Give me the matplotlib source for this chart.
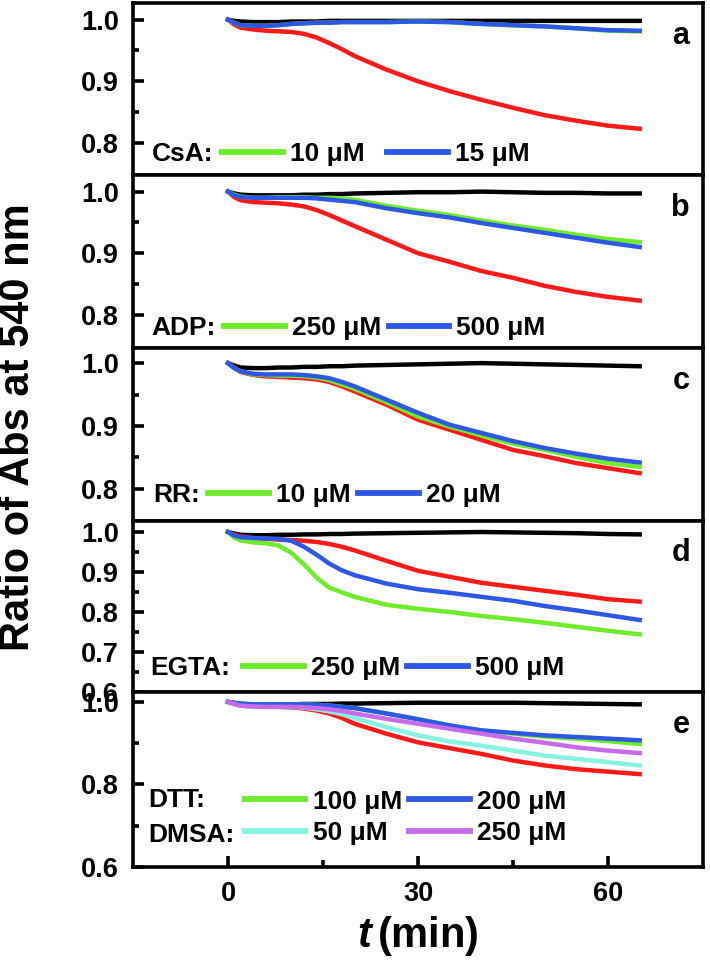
import numpy as np
import matplotlib
matplotlib.use("Agg")
import matplotlib.pyplot as plt
from matplotlib.lines import Line2D
from matplotlib.ticker import FixedLocator

plt.rcParams.update({
    "font.family": ["Liberation Sans", "DejaVu Sans"],
    "font.weight": "bold",
    "mathtext.fontset": "custom",
    "mathtext.it": "Liberation Sans:bold:italic",
    "mathtext.rm": "Liberation Sans:bold",
})

# colours
BLACK = "#000000"
RED = "#FF1A1A"
GREEN = "#6EEB2A"
BLUE = "#2D58E6"
CYAN = "#86F2E2"
PURPLE = "#C76BEA"

# ── data ────────────────────────────────────────────────────────
t = [0, 1, 2, 4, 6, 8, 10, 12, 14, 16, 18, 20, 25, 30, 35, 40, 45, 50, 55, 60, 65]

# a: CsA
a_ctrl = [1.0, 0.998, 0.997, 0.996, 0.996, 0.996, 0.997, 0.997, 0.997, 0.998, 0.998,
          0.998, 0.998, 0.998, 0.998, 0.998, 0.998, 0.998, 0.998, 0.998, 0.998]
a_ca = [1.0, 0.992, 0.987, 0.984, 0.982, 0.981, 0.980, 0.977, 0.971, 0.962, 0.952,
        0.941, 0.919, 0.900, 0.884, 0.870, 0.857, 0.845, 0.836, 0.828, 0.823]
a_lo = [1.0, 0.995, 0.991, 0.990, 0.990, 0.991, 0.993, 0.994, 0.995, 0.995, 0.996,
        0.996, 0.996, 0.997, 0.996, 0.993, 0.991, 0.989, 0.986, 0.982, 0.981]
a_hi = [1.0, 0.995, 0.991, 0.990, 0.990, 0.991, 0.993, 0.994, 0.995, 0.995, 0.996,
        0.996, 0.996, 0.997, 0.996, 0.993, 0.991, 0.989, 0.986, 0.983, 0.982]

# b: ADP
b_ctrl = [1.0, 0.997, 0.995, 0.994, 0.994, 0.994, 0.994, 0.995, 0.995, 0.996, 0.996,
          0.997, 0.998, 0.999, 0.999, 1.0, 0.999, 0.998, 0.998, 0.997, 0.997]
b_ca = [1.0, 0.991, 0.986, 0.983, 0.982, 0.981, 0.979, 0.976, 0.970, 0.962, 0.953,
        0.944, 0.922, 0.900, 0.886, 0.871, 0.860, 0.847, 0.837, 0.829, 0.823]
b_lo = [1.0, 0.995, 0.992, 0.990, 0.990, 0.991, 0.991, 0.991, 0.990, 0.990, 0.989,
        0.987, 0.977, 0.969, 0.962, 0.953, 0.945, 0.938, 0.930, 0.923, 0.918]
b_hi = [1.0, 0.994, 0.991, 0.990, 0.990, 0.990, 0.990, 0.990, 0.989, 0.987, 0.985,
        0.983, 0.973, 0.965, 0.958, 0.949, 0.941, 0.933, 0.925, 0.917, 0.910]

# c: RR
c_ctrl = [1.0, 0.996, 0.993, 0.992, 0.992, 0.993, 0.993, 0.994, 0.994, 0.995, 0.995,
          0.996, 0.997, 0.998, 0.999, 1.0, 0.999, 0.998, 0.997, 0.996, 0.995]
c_ca = [1.0, 0.992, 0.986, 0.981, 0.979, 0.978, 0.977, 0.976, 0.974, 0.970, 0.963,
        0.955, 0.934, 0.910, 0.894, 0.878, 0.862, 0.852, 0.841, 0.833, 0.825]
c_lo = [1.0, 0.992, 0.987, 0.982, 0.981, 0.980, 0.980, 0.979, 0.977, 0.973, 0.966,
        0.959, 0.938, 0.915, 0.899, 0.885, 0.872, 0.862, 0.851, 0.841, 0.835]
c_hi = [1.0, 0.992, 0.987, 0.983, 0.982, 0.982, 0.982, 0.981, 0.979, 0.976, 0.970,
        0.963, 0.942, 0.921, 0.902, 0.889, 0.876, 0.865, 0.856, 0.848, 0.842]

# d: EGTA
d_ctrl = [1.0, 0.996, 0.993, 0.992, 0.992, 0.993, 0.993, 0.994, 0.994, 0.995, 0.995,
          0.996, 0.997, 0.998, 0.999, 1.0, 0.999, 0.998, 0.997, 0.995, 0.994]
d_ca = [1.0, 0.993, 0.989, 0.985, 0.983, 0.981, 0.980, 0.978, 0.975, 0.970, 0.963,
        0.954, 0.928, 0.903, 0.888, 0.873, 0.863, 0.853, 0.843, 0.832, 0.826]
d_lo = [1.0, 0.986, 0.979, 0.974, 0.972, 0.966, 0.948, 0.919, 0.886, 0.861, 0.849,
        0.838, 0.818, 0.808, 0.800, 0.790, 0.782, 0.773, 0.763, 0.753, 0.744]
d_hi = [1.0, 0.991, 0.987, 0.985, 0.984, 0.983, 0.978, 0.963, 0.943, 0.921, 0.904,
        0.892, 0.871, 0.857, 0.848, 0.838, 0.828, 0.815, 0.804, 0.792, 0.780]

# e: DTT / DMSA
e_ctrl = [1.0, 0.997, 0.995, 0.994, 0.994, 0.994, 0.994, 0.995, 0.995, 0.995, 0.996,
          0.996, 0.997, 0.998, 0.998, 0.998, 0.998, 0.997, 0.996, 0.995, 0.994]
e_ca = [1.0, 0.995, 0.991, 0.989, 0.988, 0.988, 0.987, 0.984, 0.979, 0.972, 0.961,
        0.947, 0.923, 0.902, 0.888, 0.874, 0.858, 0.846, 0.837, 0.831, 0.825]
e_dtt100 = [1.0, 0.998, 0.996, 0.994, 0.994, 0.994, 0.994, 0.994, 0.993, 0.991, 0.988,
            0.985, 0.972, 0.958, 0.943, 0.931, 0.923, 0.916, 0.911, 0.905, 0.898]
e_dtt200 = [1.0, 0.998, 0.996, 0.994, 0.994, 0.994, 0.994, 0.994, 0.993, 0.991, 0.988,
            0.985, 0.972, 0.958, 0.943, 0.931, 0.925, 0.919, 0.915, 0.911, 0.907]
e_dmsa50 = [1.0, 0.995, 0.991, 0.989, 0.988, 0.988, 0.988, 0.986, 0.982, 0.977, 0.970,
            0.961, 0.939, 0.919, 0.904, 0.894, 0.882, 0.870, 0.862, 0.854, 0.846]
e_dmsa250 = [1.0, 0.995, 0.991, 0.989, 0.988, 0.988, 0.988, 0.987, 0.985, 0.982, 0.978,
             0.972, 0.959, 0.947, 0.935, 0.923, 0.911, 0.901, 0.890, 0.882, 0.876]

panel_letters = ["a", "b", "c", "d", "e"]

# ── layout (pixel rows of each panel in a 710x965 canvas) ───────
W, H = 710, 965
LEFT, RIGHT = 133, 703
ROWS = [(3, 175), (175, 348), (348, 521), (521, 692), (692, 867)]
LW = 3.2
TICKFS = 19.5
LEGFS = 19

fig = plt.figure(figsize=(W / 100, H / 100), dpi=100)
axes = []
for top, bot in ROWS:
    ax = fig.add_axes([LEFT / W, 1 - bot / H, (RIGHT - LEFT) / W, (bot - top) / H])
    axes.append(ax)


def style(ax, ylim, major, minor, bottom=False):
    ax.set_xlim(-15, 75)
    ax.set_ylim(*ylim)
    ax.yaxis.set_major_locator(FixedLocator(major))
    ax.yaxis.set_minor_locator(FixedLocator(minor))
    ax.set_yticklabels([f"{v:.1f}" for v in major])
    for s in ax.spines.values():
        s.set_linewidth(2.6)
    ax.tick_params(axis="y", which="major", direction="in", length=8, width=2.6,
                   pad=10, labelsize=TICKFS, right=False)
    ax.tick_params(axis="y", which="minor", direction="in", length=4.5, width=2.6,
                   right=False)
    for lab in ax.get_yticklabels():
        lab.set_fontweight("bold")
    if bottom:
        ax.xaxis.set_major_locator(FixedLocator([0, 30, 60]))
        ax.xaxis.set_minor_locator(FixedLocator([15, 45]))
        ax.tick_params(axis="x", which="major", direction="in", length=8, width=2.6,
                       pad=10, labelsize=TICKFS, top=False)
        ax.tick_params(axis="x", which="minor", direction="in", length=5, width=2.6,
                       top=False)
        for lab in ax.get_xticklabels():
            lab.set_fontweight("bold")
    else:
        ax.tick_params(axis="x", which="both", bottom=False, top=False,
                       labelbottom=False)


def add_legend(ax, prefix, px, hx, y, entries, colspace=0.28, prefixes_y=None):
    handles = [Line2D([], [], color=c, lw=4.2) for c, _ in entries]
    labels = [l for _, l in entries]
    ax.legend(handles, labels, ncol=2, loc="center left",
              bbox_to_anchor=(hx, y), frameon=False, borderpad=0,
              borderaxespad=0, handlelength=2.3, handletextpad=0.27,
              columnspacing=colspace, labelspacing=0.3,
              prop={"weight": "bold", "size": LEGFS})
    if prefixes_y is None:
        prefix, prefixes_y = [prefix], [y]
    for p, yy in zip(prefix, prefixes_y):
        ax.text(px, yy, p, transform=ax.transAxes, ha="left", va="center",
                fontsize=LEGFS, fontweight="bold")


# a
ax = axes[0]
ax.plot(t, a_ctrl, color=BLACK, lw=LW)
ax.plot(t, a_ca, color=RED, lw=LW)
ax.plot(t, a_lo, color=GREEN, lw=LW)
ax.plot(t, a_hi, color=BLUE, lw=LW)
style(ax, (0.748, 1.027), [0.8, 0.9, 1.0], [0.85, 0.95])
add_legend(ax, "CsA:", 0.033, 0.156, 0.122,
           [(GREEN, "10 μM"), (BLUE, "15 μM")], colspace=0.87)

# b
ax = axes[1]
ax.plot(t, b_ctrl, color=BLACK, lw=LW)
ax.plot(t, b_ca, color=RED, lw=LW)
ax.plot(t, b_lo, color=GREEN, lw=LW)
ax.plot(t, b_hi, color=BLUE, lw=LW)
style(ax, (0.746, 1.027), [0.8, 0.9, 1.0], [0.85, 0.95])
add_legend(ax, "ADP:", 0.033, 0.160, 0.116,
           [(GREEN, "250 μM"), (BLUE, "500 μM")])

# c
ax = axes[2]
ax.plot(t, c_ctrl, color=BLACK, lw=LW)
ax.plot(t, c_ca, color=RED, lw=LW)
ax.plot(t, c_lo, color=GREEN, lw=LW)
ax.plot(t, c_hi, color=BLUE, lw=LW)
style(ax, (0.749, 1.024), [0.8, 0.9, 1.0], [0.85, 0.95])
add_legend(ax, "RR:", 0.035, 0.132, 0.150,
           [(GREEN, "10 μM"), (BLUE, "20 μM")])

# d
ax = axes[3]
ax.plot(t, d_ctrl, color=BLACK, lw=LW)
ax.plot(t, d_ca, color=RED, lw=LW)
ax.plot(t, d_lo, color=GREEN, lw=LW)
ax.plot(t, d_hi, color=BLUE, lw=LW)
style(ax, (0.6, 1.0275), [0.6, 0.7, 0.8, 0.9, 1.0], [0.65, 0.75, 0.85, 0.95])
add_legend(ax, "EGTA:", 0.030, 0.193, 0.140,
           [(GREEN, "250 μM"), (BLUE, "500 μM")])

# e
ax = axes[4]
ax.plot(t, e_ctrl, color=BLACK, lw=LW)
ax.plot(t, e_ca, color=RED, lw=LW)
ax.plot(t, e_dtt100, color=GREEN, lw=LW)
ax.plot(t, e_dmsa50, color=CYAN, lw=LW)
ax.plot(t, e_dtt200, color=BLUE, lw=LW)
ax.plot(t, e_dmsa250, color=PURPLE, lw=LW)
style(ax, (0.6, 1.024), [0.6, 0.8, 1.0], [0.7, 0.9], bottom=True)
add_legend(ax, ["DTT:", "DMSA:"], 0.026, 0.196, 0.283,
           [(GREEN, "100 μM"), (CYAN, "50 μM"), (BLUE, "200 μM"), (PURPLE, "250 μM")],
           prefixes_y=[0.383, 0.183])
ax.set_xlabel(r"$t\,$(min)", fontsize=30, fontweight="bold", labelpad=5)

for ax, letter in zip(axes, panel_letters):
    ax.text(0.961, 0.81, letter, transform=ax.transAxes, ha="center", va="center",
            fontsize=22, fontweight="bold")

fig.text(0.026, 1 - 427 / H, "Ratio of Abs at 540 nm", rotation=90,
         ha="center", va="center", fontsize=30, fontweight="bold")

fig.savefig("out.png", dpi=100)
